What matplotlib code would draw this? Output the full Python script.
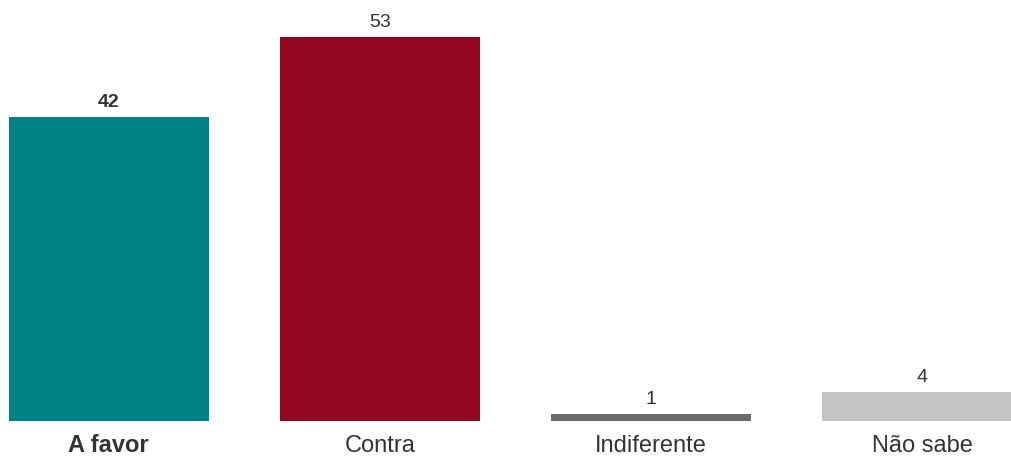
import matplotlib
matplotlib.use("Agg")
import matplotlib.pyplot as plt

categories = ["A favor", "Contra", "Indiferente", "Não sabe"]
values = [42, 53, 1, 4]
colors = ["#008285", "#93061F", "#6b6b6b", "#c4c4c4"]
bold = [True, False, False, False]

W, H = 1012, 457
fig = plt.figure(figsize=(W / 100, H / 100), dpi=100)
base_px = 421
ax = fig.add_axes([0, (H - base_px) / H, 1, base_px / H])
ax.set_xlim(-0.4, (W - 108.5) / 271.3)
ax.set_ylim(0, base_px / 7.245)
ax.axis("off")

x = range(len(categories))
ax.bar(x, values, width=200 / 271.3, color=colors)
for i, (c, v, b) in enumerate(zip(categories, values, bold)):
    ax.annotate(str(v), (i, v), xytext=(0, 4), textcoords="offset points",
                ha="center", va="bottom", fontsize=14, color="#333333",
                family="Liberation Sans", fontweight="bold" if b else "normal")
    ax.annotate(c, (i, 0), xytext=(0, -18), textcoords="offset points",
                ha="center", va="center", fontsize=17, color="#333333",
                family="Liberation Sans", fontweight="bold" if b else "normal",
                annotation_clip=False)

fig.savefig("out.png", dpi=100)
